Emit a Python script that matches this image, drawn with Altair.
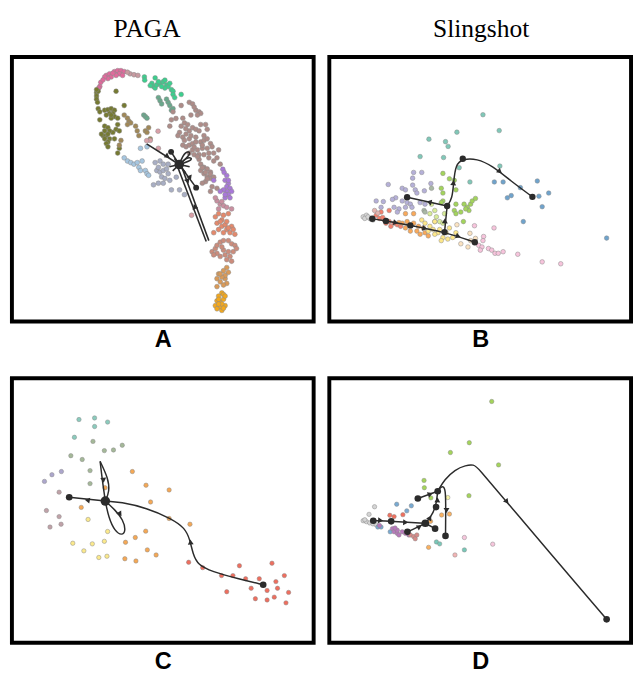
import math
import altair as alt
import pandas as pd

# ---------------- Panel A (PAGA, embedding coordinates) ----------------
A_names = ["pink", "mauvepink", "brightgreen", "tealgreen", "olive", "tan", "mauve",
           "lightblue", "greyblue", "purple", "pinkmauve", "salmon", "rosytan", "tanorange", "gold", "palepink"]
A_colors = ["#e06a9c", "#c79aa0", "#3ccf8e", "#6aa88c", "#767a32", "#a08858", "#ae8c88",
            "#a6c6e0", "#a8aec4", "#a878d8", "#c98fa0", "#e4896c", "#cc8c7c", "#d99a58", "#f4a81c", "#d9a0a8"]

A_pink = [(296,64),(306,59),(321,52),(331,49),(341,49),(351,52),(336,59),(326,64),(311,69),(301,74),
          (291,69),(279,86),(276,99),(273,104),(346,64),(316,57),(286,78)]
A_mauvepink = [(369,59),(381,62),(393,64),(361,54)]
A_brightgreen = [(413,69),(414,79),(446,72),(436,89),(441,99),(446,104),(451,94),(461,89),(471,84),
                 (476,79),(481,94),(486,99),(476,104),(491,89),(496,109),(501,114),(501,124),(506,134),(526,124),
                 (456,84),(466,99),(431,96)]
A_tealgreen = [(456,134),(461,144),(466,154),(486,149),(491,159),(496,174),(501,169),(481,139),
               (411,189),(416,194),(421,199)]
A_olive = [(266,119),(266,129),(266,139),(269,149),(271,114),(271,169),(276,179),(291,174),(301,172),
           (311,169),(321,174),(316,184),(306,184),(296,189),(321,194),(331,199),(311,199),(276,204),
           (291,224),(301,229),(326,234),(336,239),(316,244),(306,239),(291,239),(296,254),(306,264),
           (301,274),(321,264),(296,279),(301,289),(286,254),(281,249),(326,114),(351,159),(331,219),
           (336,294),(331,309),(266,109),(311,189),(301,249),(291,264)]
A_tan = [(351,189),(361,199),(366,209),(371,214),(361,219),(391,239),(396,254),(416,239),(421,244),
         (426,229),(431,264),(341,269),(336,284),(386,224)]
A_mauve = [(491,224),(496,204),(501,179),(526,159),(551,149),(561,154),(571,174),(581,179),(586,184),
           (556,189),(531,199),(536,214),(546,219),(526,224),(521,244),(531,259),(541,249),(551,239),
           (561,229),(571,234),(581,239),(586,219),(601,219),(606,234),(596,254),(571,259),(551,264),
           (536,269),(531,284),(541,289),(551,284),(561,279),(571,274),(586,274),(596,269),(606,264),
           (616,279),(621,289),(606,294),(591,294),(576,299),(561,299),(551,309),(566,314),(581,314),
           (596,314),(611,309),(626,309),(636,324),(641,299),(581,329),(586,344),(596,354),(606,359),
           (616,369),(586,364),(596,374),(606,384),(616,389),(601,399),(591,404),(646,344),(626,334),
           (576,320),(591,355),(601,370),(606,390),(616,375),(626,385),(621,415),(636,420),(616,430),
           (510,200),(540,232),(566,290),(516,254),(556,254),(591,284),(611,324),(576,189),(566,164)]
A_lightblue = [(401,294),(421,289),(351,324),(361,334),(371,339),(381,344),(391,339),(396,354),
               (401,364),(416,364),(421,374),(426,379),(406,334)]
A_greyblue = [(446,339),(461,334),(471,344),(451,364),(461,369),(471,364),(481,359),(466,384),
              (476,389),(486,374),(456,404),(471,404),(441,409),(491,395),(511,385),(521,425),(496,425),(536,440),
              (456,354),(486,344)]
A_purple = [(654,360),(658,370),(666,380),(661,395),(671,405),(666,415),(676,420),(681,430),(666,430),
            (656,425),(671,440),(661,450),(676,450),(626,395),(646,430),(671,395),(661,440)]
A_pinkmauve = [(636,460),(646,470),(656,475),(666,480),(681,485),(631,450),(641,485),(651,462)]
A_salmon = [(631,510),(641,500),(656,505),(671,500),(636,530),(651,540),(661,535),(666,550),(676,560),
            (691,565),(656,560),(641,550),(626,560),(681,540),(666,525),(651,520),(686,550),(646,525),(671,545)]
A_rosytan = [(621,620),(631,610),(636,600),(646,590),(656,585),(671,585),(681,595),(691,600),(686,620),
             (676,635),(661,630),(646,635),(636,625),(666,645),(681,650),(656,615),(696,610),(626,630),
             (671,620),(651,605)]
A_tanorange = [(666,670),(656,680),(641,690),(636,705),(646,715),(661,705),(671,685),(666,720),(656,725),
               (636,730),(661,695),(651,700),(646,690)]
A_gold = [(651,750),(641,760),(636,775),(646,780),(656,770),(661,790),(646,795),(631,790),(656,755),
          (636,800),(651,805),(661,760),(641,770),(651,785),(641,785),(656,798)]
A_palepink = [(431,269),(456,294),(558,505),(455,240),(420,270)]

A_groups = [A_pink, A_mauvepink, A_brightgreen, A_tealgreen, A_olive, A_tan, A_mauve, A_lightblue,
            A_greyblue, A_purple, A_pinkmauve, A_salmon, A_rosytan, A_tanorange, A_gold, A_palepink]

A_paths = [
    [(420,280),(520,345)],
    [(520,345),(495,305)],
    [(515,352),(603,588)],
    [(526,348),(611,585)],
    [(520,345),(572,418)],
    [(520,345),(538,300),(562,308),(520,345)],
    [(520,345),(548,318),(566,330),(520,345)],
    [(520,345),(490,352)],
    [(520,345),(505,326)],
    [(520,345),(540,372)],
    [(520,345),(500,365)],
    [(520,345),(552,352)],
]
A_arrows = [(482,318,520,345),(568,480,562,460),(545,395,553,415),(552,385,560,405)]
A_nodes = [(520,345,95),(495,305,36),(572,418,36)]

# ---------------- Panel B (Slingshot) ----------------
B_names = ["teal", "blue", "green", "ltgreen", "lavender", "greygreen", "salmon", "orange",
           "yellow", "cream", "pink", "grey", "pinkgrey"]
B_colors = ["#80c8b8", "#6fa3cc", "#a3d45c", "#d8ec98", "#b5b0d8", "#a9b8a4", "#f4806c", "#f9a95a",
            "#fde78a", "#fbe3c2", "#f7c4dc", "#d6d6d6", "#e4b4b0"]
B_teal = [(478,188),(398,243),(528,238),(312,265),(363,273),(371,288),(357,323),(285,320),(405,355),
          (530,350),(438,400)]
B_blue = [(513,400),(540,400),(593,418),(565,443),(553,450),(645,397),(650,445),(680,435),(660,478),
          (602,525),(858,577)]
B_green = [(350,420),(355,435),(355,460),(350,465),(375,390),(390,395),(395,425),(395,470),(390,490),
           (395,500),(410,495),(420,470),(430,480),(440,470),(445,460),(455,452),(435,490),(425,485),
           (418,525),(355,373)]
B_ltgreen = [(320,470),(330,490),(315,500),(335,510),(345,525),(355,530),(330,525),(360,500)]
B_lavender = [(187,408),(265,370),(290,370),(262,388),(262,410),(230,420),(240,425),(270,425),(275,435),
              (298,428),(318,405),(210,450),(200,455),(150,460),(172,462),(230,460),(245,465),
              (255,470),(260,480),(240,480),(220,485),(215,495),(205,480),(165,480),(285,465),(300,470)]
B_greygreen = [(297,490),(300,495),(320,420)]
B_salmon = [(190,490),(165,495),(150,505),(160,515),(175,520),(190,525),(205,530),(215,535),(225,540),
            (195,540),(180,530),(170,512)]
B_orange = [(240,500),(265,500),(230,530),(250,535),(265,530),(280,540),(295,545),(240,545),(255,555),
            (275,555),(300,560),(285,565),(310,570),(220,528),(245,525)]
B_yellow = [(290,520),(300,530),(315,540),(325,550),(340,560),(355,575),(370,580),(385,575),(330,565),
            (345,550),(365,560),(375,545),(395,560),(330,525),(310,555),(350,585)]
B_cream = [(398,535),(438,562),(410,595),(432,605),(440,585),(455,578)]
B_pink = [(452,538),(512,545),(480,572),(478,585),(465,600),(475,605),(495,610),(505,615),(515,625),
          (525,625),(540,620),(585,628),(660,652),(717,658),(470,615)]
B_grey = [(110,510),(120,505),(130,515),(115,515),(140,520),(125,510)]
B_pinkgrey = [(145,490),(155,498)]
B_groups = [B_teal, B_blue, B_green, B_ltgreen, B_lavender, B_greygreen, B_salmon, B_orange,
            B_yellow, B_cream, B_pink, B_grey, B_pinkgrey]

B_paths = [
    [(138,516),(180,523),(255,537),(360,558),(453,590)],
    [(360,558),(368,476)],
    [(368,476),(245,448)],
    [(368,476),(384,452),(388,400),(394,345),(416,327),(460,327),(505,348),(565,398),(630,447)],
]
B_arrows = [(208,528,255,537),(297,546,360,558),(400,571,453,590),(361,525,362,500),
            (315,464,245,448),(387,405,389,380),(528,366,560,392)]
B_nodes = [(138,516,42),(180,523,42),(255,537,42),(360,558,42),(453,590,42),(245,448,42),
           (368,476,42),(416,327,42),(630,447,42)]

# ---------------- Panel C (PAGA) ----------------
C_names = ["teal", "greygreen", "lavender", "mauve", "orange", "yellow", "red"]
C_colors = ["#8acbbd", "#a4b898", "#aca6cc", "#c0a2a8", "#f5a855", "#fbe98c", "#ef6e5e"]
C_teal = [(212,136),(260,131),(260,158),(300,144),(198,192)]
C_greygreen = [(255,205),(290,234),(318,232),(345,217),(187,250),(222,262),(246,297),(246,338)]
C_lavender = [(158,300),(129,310),(106,331)]
C_mauve = [(151,365),(112,423),(151,442),(157,466),(123,475)]
C_orange = [(376,300),(418,343),(489,358),(432,396),(219,413),(292,351),(489,448),(553,466),(417,488),
            (385,508),(355,523),(422,547),(449,563),(353,575),(387,582)]
C_yellow = [(240,451),(300,489),(290,520),(253,528),(193,526),(227,550),(273,571),(298,567)]
C_red = [(549,586),(592,603),(650,628),(685,628),(705,597),(724,638),(766,638),(805,589),(843,628),
         (817,647),(741,668),(790,675),(822,668),(856,681),(666,679),(754,701),(790,705),(812,696),(848,714)]
C_groups = [C_teal, C_greygreen, C_lavender, C_mauve, C_orange, C_yellow, C_red]

C_paths = [
    [(293,393),(182,381)],
    [(778,657),(700,638),(620,615),(578,595),(562,560),(553,515),(538,478),(495,448),(420,415),(340,396),(293,393)],
    [(293,393),(284,330),(277,268)],
    [(277,268),(302,322),(306,362),(293,393)],
    [(293,393),(322,420),(348,452),(356,488),(344,502),(322,488),(303,445),(293,393)],
]
C_arrows = [(240,391,182,381),(555,525,553,500),(287,325,289,345),(337,432,350,452)]
C_nodes = [(293,393,95),(182,381,46),(778,657,46)]

# ---------------- Panel D (Slingshot) ----------------
D_names = ["green", "paleyellow", "grey", "blue", "salmon", "purple", "rosy", "orange", "teal",
           "pink", "peach"]
D_colors = ["#a4d45a", "#f6f3a8", "#d4d4d4", "#78aad2", "#f0705e", "#b878bc", "#d88a88", "#f9b060",
            "#78c8b8", "#f6c6dc", "#f2b4b4"]
D_green = [(505,79),(436,209),(378,240),(526,279),(297,328),(298,351),(318,383),(435,376)]
D_paleyellow = [(370,382)]
D_grey = [(145,411),(128,435),(110,455),(120,458),(130,462),(140,465),(150,468),(115,452)]
D_blue = [(213,403),(258,408),(244,424),(155,475),(165,475),(193,490)]
D_salmon = [(232,436),(192,438),(205,442)]
D_purple = [(160,470),(200,480),(205,490),(215,495),(220,500),(230,490),(240,495),(250,500),(215,485),(208,478)]
D_rosy = [(255,500),(265,505),(270,512),(275,500)]
D_orange = [(351,437),(375,434),(317,457),(311,539)]
D_teal = [(335,522),(345,528),(421,547)]
D_pink = [(421,508),(508,529)]
D_peach = [(392,563)]
D_groups = [D_green, D_paleyellow, D_grey, D_blue, D_salmon, D_purple, D_rosy, D_orange, D_teal,
            D_pink, D_peach]

D_paths = [
    [(141,455),(196,457),(301,463)],
    [(301,463),(331,480)],
    [(246,490),(276,476),(301,463)],
    [(301,463),(316,446),(334,412),(339,362)],
    [(278,385),(339,362)],
    [(339,362),(352,344),(362,352),(364,390),(363,503)],
    [(339,362),(360,325),(392,294),(425,280),(450,278),(462,287),(550,395),(858,766)],
]
D_arrows = [(161,454,196,457),(238,460,301,463),(281,475,301,463),(314,448,334,412),
            (338,392,339,362),(314,372,339,362),(366,420,366,450),(550,393,570,418)]
D_nodes = [(141,455,46),(196,457,46),(301,463,62),(246,490,46),(331,480,46),(334,412,46),
           (339,362,46),(278,385,46),(363,503,46),(858,766,46)]

# ---------------- helpers ----------------
XDOM = [6, 933]
YDOM = [6, 840]
LINE = "#2b2b2b"
PW, PH = 308, 270


def x_enc(letter):
    return alt.X("x:Q", scale=alt.Scale(domain=XDOM, nice=False, zero=False),
                 axis=alt.Axis(title=letter, labels=False, ticks=False, domain=False, grid=False,
                               titleFont="Liberation Sans", titleFontSize=24, titleFontWeight="bold",
                               titleColor="black", titlePadding=7))


def y_enc():
    return alt.Y("y:Q", scale=alt.Scale(domain=YDOM, nice=False, zero=False, reverse=True), axis=None)


def panel(names, colors, groups, paths, arrows, nodes, letter, head=None, psize=20, lw=1.4, dx=0):
    rows = []
    for name, pts in zip(names, groups):
        for (px, py) in pts:
            rows.append({"x": px, "y": py, "cluster": name})
    pts_df = pd.DataFrame(rows)

    prow = []
    for i, path in enumerate(paths):
        for k, (px, py) in enumerate(path):
            prow.append({"x": px, "y": py, "id": i, "k": k})
    path_df = pd.DataFrame(prow)

    arow = []
    for (ax, ay, tx, ty) in arrows:
        ang = math.degrees(math.atan2(tx - ax, -(ty - ay))) % 360
        arow.append({"x": ax, "y": ay, "ang": ang})
    arr_df = pd.DataFrame(arow)

    node_df = pd.DataFrame([{"x": nx, "y": ny, "s": s} for (nx, ny, s) in nodes])

    pts_layer = alt.Chart(pts_df).mark_circle(size=psize, opacity=1, stroke="#8a8a8a", strokeWidth=0.5).encode(
        x=x_enc(letter), y=y_enc(),
        color=alt.Color("cluster:N", scale=alt.Scale(domain=names, range=colors), legend=None))
    line_layer = alt.Chart(path_df).mark_line(color=LINE, strokeWidth=lw, interpolate="basis").encode(
        x=x_enc(letter), y=y_enc(), detail="id:N", order="k:Q")
    arr_layer = alt.Chart(arr_df).mark_point(shape="triangle", filled=True, color=LINE, opacity=1, size=36).encode(
        x=x_enc(letter), y=y_enc(), angle=alt.Angle("ang:Q", scale=None))
    node_layer = alt.Chart(node_df).mark_circle(color=LINE, opacity=1).encode(
        x=x_enc(letter), y=y_enc(), size=alt.Size("s:Q", scale=None))

    ch = alt.layer(pts_layer, line_layer, arr_layer, node_layer).properties(width=PW, height=PH)
    if head is not None:
        ch = ch.properties(title=alt.TitleParams(head, font="Liberation Serif", fontSize=26,
                                                  fontWeight="normal", color="black", offset=15, dx=dx))
    return ch


pA = panel(A_names, A_colors, A_groups, A_paths, A_arrows, A_nodes, "A", head="PAGA", psize=24, lw=1.6, dx=-16)
pB = panel(B_names, B_colors, B_groups, B_paths, B_arrows, B_nodes, "B", head="Slingshot", psize=22, lw=1.5, dx=1)
pC = panel(C_names, C_colors, C_groups, C_paths, C_arrows, C_nodes, "C", psize=20, lw=1.5)
pD = panel(D_names, D_colors, D_groups, D_paths, D_arrows, D_nodes, "D", psize=20, lw=1.5)

row1 = alt.hconcat(pA, pB, spacing=12).resolve_scale(color="independent")
row2 = alt.hconcat(pC, pD, spacing=12).resolve_scale(color="independent")

chart = alt.vconcat(row1, row2, spacing=23).resolve_scale(color="independent").properties(
    padding={"left": 2, "top": 0, "right": 0, "bottom": 0}
).configure_view(stroke="black", strokeWidth=4)

chart.save("out.html", embed_options={"renderer": "svg", "actions": False})
